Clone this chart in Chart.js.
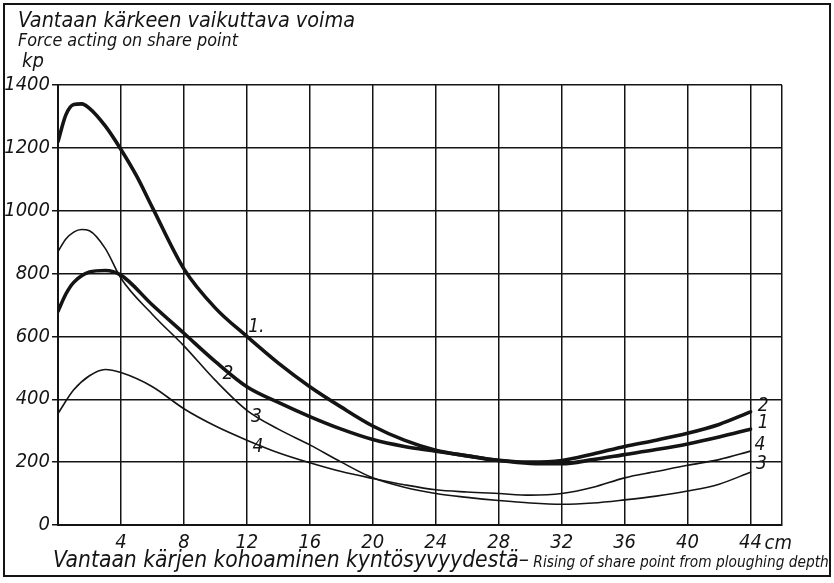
<!DOCTYPE html>
<html><head><meta charset="utf-8">
<script src="https://cdn.jsdelivr.net/npm/chart.js@4/dist/chart.umd.min.js"></script>
<style>html,body{margin:0;padding:0;background:#fff}#wrap{width:834px;height:583px;position:relative}</style>
</head><body><div id="wrap"><canvas id="c" width="834" height="583"></canvas></div>
<script>
// ---- data ----
const titleFi = "Vantaan kärkeen vaikuttava voima";
const titleEn = "Force acting on share point";
const yUnit = "kp";
const xTitleFi = "Vantaan kärjen kohoaminen kyntösyvyydestä–";
const xTitleEn = " Rising of share point from ploughing depth";
const xUnit = "cm";

const xTicks = [0, 4, 8, 12, 16, 20, 24, 28, 32, 36, 40, 44, 46];
const yTicks = [0, 200, 400, 600, 800, 1000, 1200, 1400];

// curve 1 (thick)
const c1x = [0, 0.5, 1, 1.5, 2, 3, 4, 5, 6, 8, 10, 12, 14, 16, 18, 20, 22, 24, 26, 28, 30, 32, 34, 36, 38, 40, 42, 44];
const c1y = [1220, 1305, 1338, 1340, 1326, 1270, 1195, 1110, 1010, 815, 690, 600, 515, 440, 375, 315, 270, 238, 220, 205, 196, 195, 208, 224, 240, 258, 280, 305];
// curve 2 (thick)
const c2x = [0, 0.5, 1, 2, 3, 4, 6, 8, 10, 12, 14, 16, 18, 20, 22, 24, 26, 28, 30, 32, 34, 36, 38, 40, 42, 44];
const c2y = [680, 735, 772, 805, 810, 795, 700, 610, 520, 440, 390, 345, 305, 272, 250, 235, 220, 206, 200, 205, 226, 250, 270, 292, 320, 360];
// curve 3 (thin)
const c3x = [0, 0.5, 1, 1.5, 2, 3, 4, 6, 8, 10, 12, 14, 16, 18, 20, 22, 24, 26, 28, 30, 32, 34, 36, 38, 40, 42, 44];
const c3y = [870, 910, 932, 940, 936, 880, 785, 670, 570, 460, 365, 305, 255, 200, 150, 120, 100, 88, 78, 70, 66, 70, 80, 92, 108, 130, 168];
// curve 4 (thin)
const c4x = [0, 1, 2, 3, 4, 6, 8, 10, 12, 14, 16, 18, 20, 22, 24, 26, 28, 30, 32, 34, 36, 38, 40, 42, 44];
const c4y = [355, 430, 475, 495, 485, 440, 370, 315, 270, 230, 198, 170, 148, 128, 112, 105, 100, 95, 100, 120, 150, 170, 190, 208, 235];

// curve number labels (data coordinates)
const curveLabelText = ["1.", "2", "3", "4", "2", "1", "4", "3"];
const curveLabelX = [12.6, 10.8, 12.6, 12.7, 44.8, 44.8, 44.6, 44.7];
const curveLabelY = [630, 480, 343, 248, 380, 325, 255, 194];

// ---- drawing ----
const INK = '#141414';
const FAM = '"DejaVu Sans Condensed", "DejaVu Sans", sans-serif';
const pts = (xs, ys) => xs.map((x, i) => ({x: x, y: ys[i]}));

function fitFont(ctx, text, width, style, base) {
  ctx.font = style + ' ' + base + 'px ' + FAM;
  const w = ctx.measureText(text).width;
  const size = base * width / w;
  return style + ' ' + size.toFixed(2) + 'px ' + FAM;
}

const textPlugin = {
  id: 'texts',
  afterDraw(chart) {
    const ctx = chart.ctx;
    const xs = chart.scales.x, ys = chart.scales.y;
    ctx.save();
    ctx.fillStyle = INK;
    ctx.textBaseline = 'alphabetic';
    ctx.textAlign = 'left';
    // frame
    ctx.strokeStyle = INK; ctx.lineWidth = 2;
    ctx.strokeRect(4, 4, 826, 572);
    // titles
    ctx.font = fitFont(ctx, titleFi, 337, 'italic', 22);
    ctx.fillText(titleFi, 18, 27);
    ctx.font = fitFont(ctx, titleEn, 220, 'italic', 14);
    ctx.fillText(titleEn, 18, 46);
    ctx.font = 'italic 20px ' + FAM;
    ctx.fillText(yUnit, 22, 67);
    // x axis title
    ctx.font = fitFont(ctx, xTitleFi, 476, 'italic', 20);
    ctx.fillText(xTitleFi, 53, 567);
    ctx.font = fitFont(ctx, xTitleEn, 300, 'italic', 14);
    ctx.fillText(xTitleEn, 529, 567);
    // unit after last tick
    ctx.font = 'italic 20px ' + FAM;
    ctx.fillText(xUnit, xs.getPixelForValue(44) + 14, 549);
    // curve numbers
    ctx.font = 'italic 19px ' + FAM;
    ctx.textAlign = 'center';
    ctx.textBaseline = 'middle';
    curveLabelText.forEach((t, i) => {
      ctx.fillText(t, xs.getPixelForValue(curveLabelX[i]), ys.getPixelForValue(curveLabelY[i]));
    });
    ctx.restore();
  }
};

const ds = (label, data, w) => ({
  label, data, borderColor: INK, borderWidth: w, pointRadius: 0,
  fill: false, cubicInterpolationMode: 'monotone', borderCapStyle: 'round', borderJoinStyle: 'round'
});

new Chart(document.getElementById('c'), {
  type: 'line',
  data: {
    datasets: [
      ds('1', pts(c1x, c1y), 3.6),
      ds('2', pts(c2x, c2y), 3.6),
      ds('3', pts(c3x, c3y), 1.6),
      ds('4', pts(c4x, c4y), 1.6)
    ]
  },
  options: {
    responsive: false, animation: false, devicePixelRatio: 1,
    layout: {padding: {left: 0, top: 85, right: 52, bottom: 0}},
    plugins: {legend: {display: false}, tooltip: {enabled: false}, title: {display: false}},
    scales: {
      x: {
        type: 'linear', min: 0, max: 46,
        afterBuildTicks: s => { s.ticks = xTicks.map(v => ({value: v})); },
        afterFit: s => { s.height = 58; },
        ticks: {
          autoSkip: false, maxRotation: 0, padding: 6, color: INK,
          font: {family: FAM, size: 20, style: 'italic'},
          callback: v => (v === 0 || v === 46) ? '' : String(v)
        },
        grid: {color: INK, lineWidth: 1.5, drawTicks: false},
        border: {display: true, color: INK, width: 2}
      },
      y: {
        min: 0, max: 1400,
        afterBuildTicks: s => { s.ticks = yTicks.map(v => ({value: v})); },
        afterFit: s => { s.width = 58; },
        ticks: {
          padding: 2, color: INK,
          font: {family: FAM, size: 20, style: 'italic'},
          callback: v => String(v)
        },
        grid: {color: INK, lineWidth: 1.5, tickLength: 6},
        border: {display: true, color: INK, width: 2}
      }
    }
  },
  plugins: [textPlugin]
});
</script>
</body></html>
